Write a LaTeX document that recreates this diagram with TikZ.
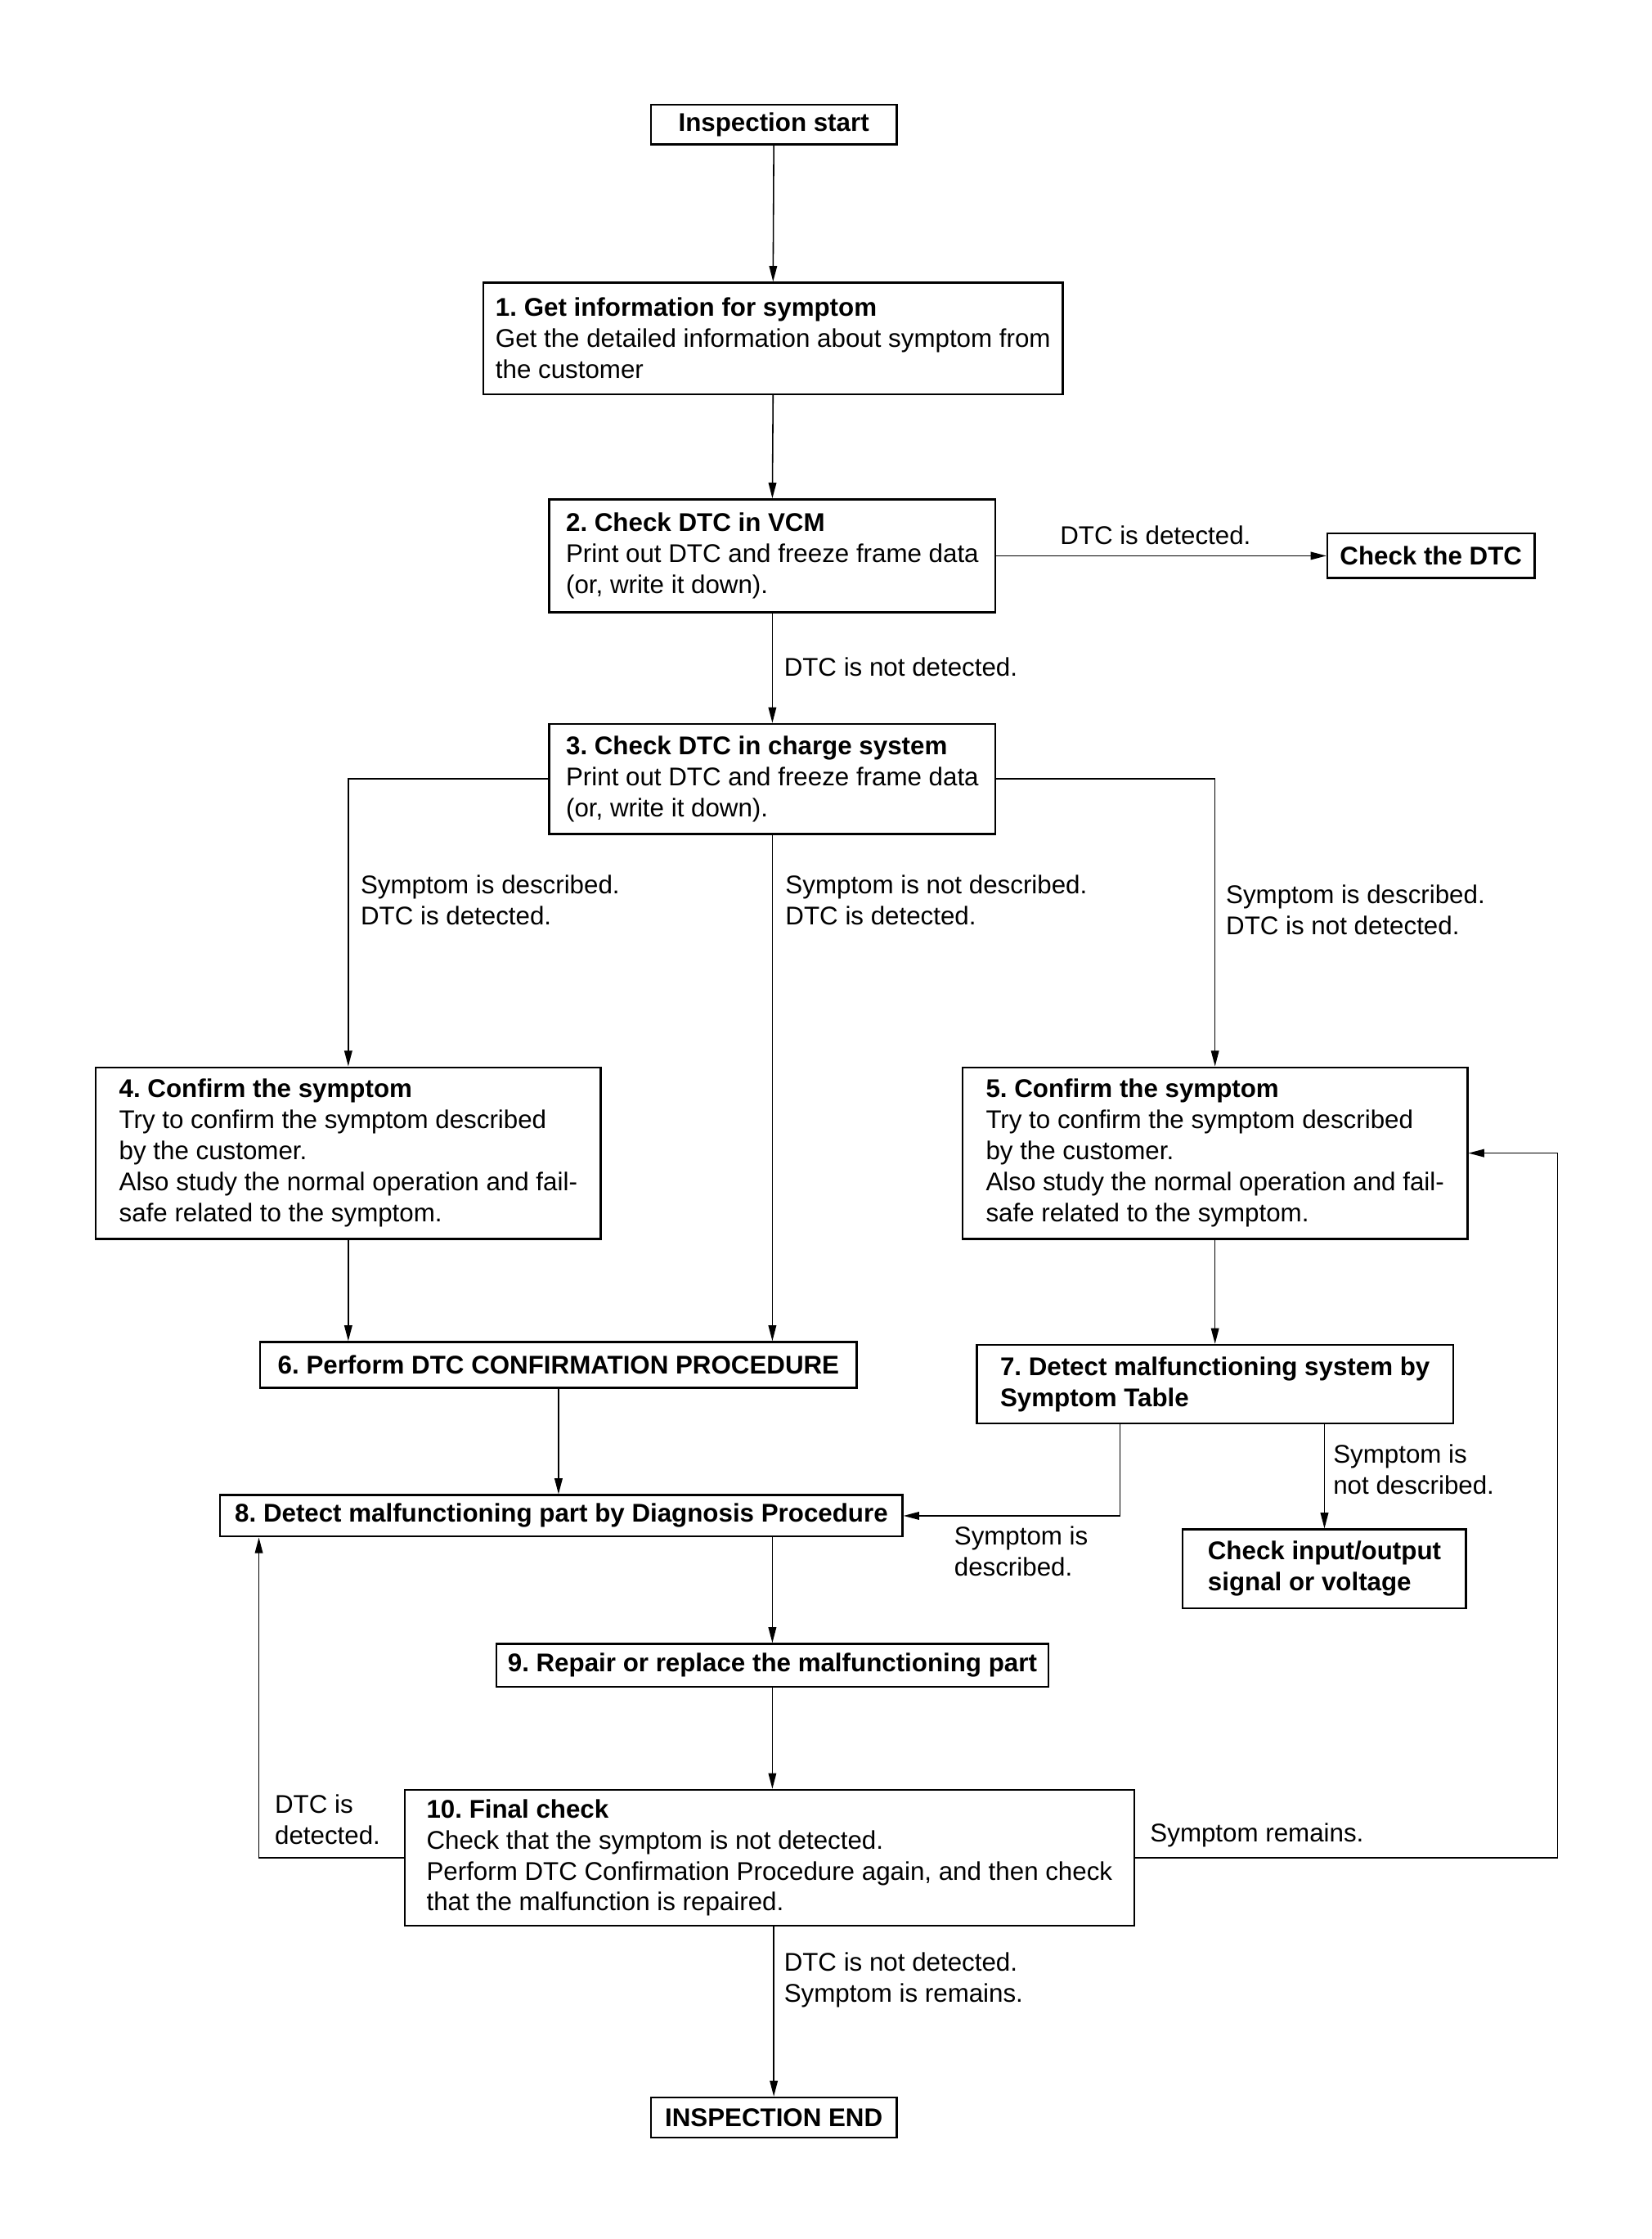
\documentclass[tikz,border=0pt]{standalone}
\usepackage{fontspec}
\setmainfont{Liberation Sans}
\usetikzlibrary{arrows.meta,calc}
\frenchspacing
\begin{document}
\begin{tikzpicture}[x=1pt,y=-1pt,
  txt/.style={font=\fontsize{17.9}{21.7}\selectfont},
  box/.style={txt, draw, line width=1.3pt, align=left, inner xsep=2pt, inner ysep=0pt},
  lbl/.style={txt, anchor=west, align=left, inner sep=0pt},
  arr/.style={line width=0.9pt, -{Triangle[length=11pt,width=5.5pt]}},
  ln/.style={line width=0.9pt}]
\useasboundingbox (0,0) rectangle (1155,1565);
\fill[white] (0,0) rectangle (1155,1565);

% boxes
\node[box, minimum width=172pt, minimum height=28pt] (start) at (541,87) {\textbf{Inspection start}};
\node[box, minimum width=405pt, minimum height=78pt] (b1) at (540.5,236.5)
  {\textbf{1. Get information for symptom}\\Get the detailed information about symptom from\\the customer};
\node[box, minimum width=312pt, minimum height=79pt] (b2) at (540,388.5)
  {\textbf{2. Check DTC in VCM}\\Print out DTC and freeze frame data\\(or, write it down).};
\node[box, minimum width=145pt, minimum height=31pt] (cd) at (1000.5,388.5) {\textbf{Check the DTC}};
\node[box, minimum width=312pt, minimum height=77pt] (b3) at (540,544.5)
  {\textbf{3. Check DTC in charge system}\\Print out DTC and freeze frame data\\(or, write it down).};
\node[box, minimum width=353pt, minimum height=120pt] (b4) at (243.5,806)
  {\textbf{4. Confirm the symptom}\\Try to confirm the symptom described\\by the customer.\\Also study the normal operation and fail-\\safe related to the symptom.};
\node[box, minimum width=353pt, minimum height=120pt] (b5) at (849.5,806)
  {\textbf{5. Confirm the symptom}\\Try to confirm the symptom described\\by the customer.\\Also study the normal operation and fail-\\safe related to the symptom.};
\node[box, minimum width=417pt, minimum height=32pt] (b6) at (390.5,954)
  {\textbf{6. Perform DTC CONFIRMATION PROCEDURE}};
\node[box, minimum width=333pt, minimum height=55pt] (b7) at (849.5,967.5)
  {\textbf{7. Detect malfunctioning system by}\\\textbf{Symptom Table}};
\node[box, minimum width=477pt, minimum height=29pt] (b8) at (392.5,1059.5)
  {\textbf{8. Detect malfunctioning part by Diagnosis Procedure}};
\node[box, minimum width=198pt, minimum height=55pt] (io) at (926,1096.5)
  {\textbf{Check input/output}\\\textbf{signal or voltage}};
\node[box, minimum width=386pt, minimum height=30pt] (b9) at (540,1164)
  {\textbf{9. Repair or replace the malfunctioning part}};
\node[box, minimum width=510pt, minimum height=95pt] (b10) at (538,1298.5)
  {\textbf{10. Final check}\\Check that the symptom is not detected.\\Perform DTC Confirmation Procedure again, and then check\\that the malfunction is repaired.};
\node[box, minimum width=172pt, minimum height=28pt] (end) at (541,1480) {\textbf{INSPECTION END}};

% helper coordinates
\coordinate (fbL) at (181,1298.5);
\coordinate (fbR) at (1089,1298.5);
\coordinate (b7l) at (783,995);

% connectors
\draw[arr] (start.south) -- (b1.north);
\draw[arr] (b1.south) -- (b2.north);
\draw[arr] (b2.east) -- (cd.west);
\draw[arr] (b2.south) -- (b3.north);
\draw[arr] (b3.west) -| (b4.north);
\draw[arr] (b3.east) -| (b5.north);
\draw[arr] (b3.south) -- (b3.south |- b6.north);
\draw[arr] (b4.south) -- (b4.south |- b6.north);
\draw[arr] (b5.south) -- (b7.north);
\draw[arr] (b6.south) -- (b6.south |- b8.north);
\draw[arr] (b7l |- b7.south) |- (b8.east);
\draw[arr] (b7.south -| io.north) -- (io.north);
\draw[arr] (b9.north |- b8.south) -- (b9.north);
\draw[arr] (b9.south) -- (b9.south |- b10.north);
\draw[arr] (end.north |- b10.south) -- (end.north);
\draw[arr] (b10.west) -- (fbL) -- (fbL |- b8.south);
\draw[arr] (b10.east) -- (fbR) -- (fbR |- b5.east) -- (b5.east);

% labels
\node[lbl] (l1) at (741,374) {DTC is detected.};
\node[lbl] (l2) at (548,466) {DTC is not detected.};
\node[lbl] (l3) at (252,629) {Symptom is described.\\DTC is detected.};
\node[lbl] (l4) at (549,629) {Symptom is not described.\\DTC is detected.};
\node[lbl] (l5) at (857,636) {Symptom is described.\\DTC is not detected.};
\node[lbl] (l6) at (932,1027) {Symptom is\\not described.};
\node[lbl] (l7) at (667,1084.5) {Symptom is\\described.};
\node[lbl] (l8) at (192,1272) {DTC is\\detected.};
\node[lbl] (l9) at (804,1283) {Symptom remains.};
\node[lbl] (l10) at (548,1384) {DTC is not detected.\\Symptom is remains.};
\end{tikzpicture}
\end{document}
